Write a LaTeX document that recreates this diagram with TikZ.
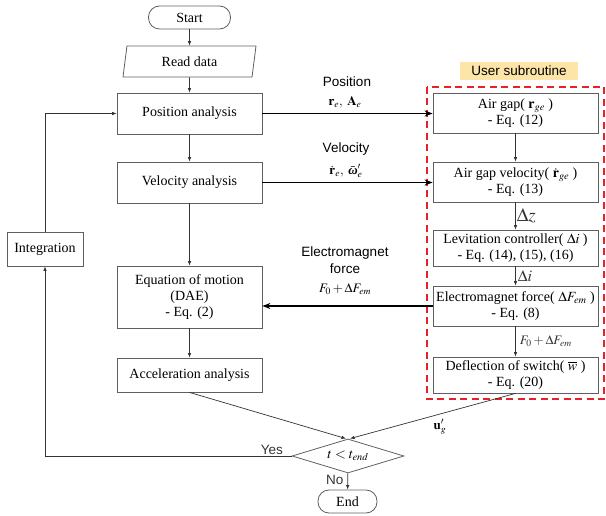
\documentclass[tikz,border=0pt]{standalone}
\usepackage{mathptmx}
\usepackage{fontspec}
\setmainfont{Liberation Serif}
\setsansfont{Liberation Sans}
\usetikzlibrary{arrows.meta,positioning,shapes.geometric}
\definecolor{subRed}{RGB}{232,32,40}
\definecolor{subYellow}{RGB}{252,229,166}
\definecolor{boxGray}{RGB}{95,95,95}
\newcommand{\bomega}{\mbox{\bfseries\itshape ω}}

\begin{document}
\begin{tikzpicture}[x=1pt,y=-1pt,
  font=\fontsize{14}{16}\selectfont,
  flowbox/.style={draw=boxGray,line width=0.8pt,minimum width=145pt,minimum height=40pt,align=center,inner sep=2pt},
  subbox/.style={flowbox,minimum width=165pt},
  terminal/.style={draw=boxGray,line width=0.8pt,rounded corners=11pt,minimum height=23pt,inner sep=2pt},
  iobox/.style={draw=boxGray,line width=0.8pt,trapezium,trapezium left angle=74,trapezium right angle=106,trapezium stretches body,minimum width=133pt,minimum height=31pt,inner sep=2pt},
  decision/.style={draw=boxGray,line width=0.8pt,diamond,aspect=3.3,minimum width=112pt,minimum height=34pt,inner sep=0pt},
  flowarrow/.style={-{Latex[length=4.5pt,width=3.5pt]},line width=0.7pt,black!80},
  dataarrow/.style={-{Stealth[length=8pt,width=6pt]},line width=1.6pt},
  sidelabel/.style={font=\sffamily\fontsize{13.5}{17}\selectfont,align=center,inner sep=1pt},
  mathlabel/.style={font=\fontsize{13}{15}\selectfont,inner sep=1pt}
]
  \useasboundingbox (0,0) rectangle (606,516);

  % main loop
  \node[terminal,minimum width=82pt] (start) at (189.5,17.5) {Start};
  \node[iobox] (read) at (189.5,61.5) {Read data};
  \node[flowbox,minimum height=41pt] (pos) at (189.5,113.5) {Position analysis};
  \node[flowbox,minimum height=41pt] (vel) at (189.5,182.5) {Velocity analysis};
  \node[flowbox,minimum height=62pt] (eom) at (189.5,297) {Equation of motion\\(DAE)\\- Eq. (2)};
  \node[flowbox,minimum height=34pt] (acc) at (189.5,375) {Acceleration analysis};
  \node[flowbox,minimum width=76pt,minimum height=34pt] (integ) at (45,249) {Integration};
  \node[decision] (check) at (348,456) {$t < t_{end}$};
  \node[terminal,minimum width=59pt] (end) at (347.5,501.5) {End};

  % user subroutine
  \draw[subRed,line width=2.2pt,dash pattern=on 7pt off 4.5pt] (427,87) rectangle (604,399);
  \node[fill=subYellow,minimum width=118pt,minimum height=18pt,inner sep=0pt,font=\sffamily\fontsize{13.5}{15}\selectfont] (usersub) at (519,71) {User subroutine};
  \node[subbox] (airgap) at (515.5,113) {Air gap( $\mathbf{r}_{ge}$ )\\- Eq. (12)};
  \node[subbox] (agvel) at (515.5,182) {Air gap velocity( $\dot{\mathbf{r}}_{ge}$ )\\- Eq. (13)};
  \node[subbox,minimum height=36pt] (levit) at (515.5,248) {Levitation controller( $\Delta i$ )\\- Eq. (14), (15), (16)};
  \node[subbox] (emforce) at (515.5,306) {Electromagnet force( $\Delta F_{em}$ )\\- Eq. (8)};
  \node[subbox,minimum height=36pt] (deflect) at (515.5,375) {Deflection of switch( $\overline{w}$ )\\- Eq. (20)};

  \draw[flowarrow] (start) -- (read);
  \draw[flowarrow] (read) -- (pos);
  \draw[flowarrow] (pos) -- (vel);
  \draw[flowarrow] (vel) -- (eom);
  \draw[flowarrow] (eom) -- (acc);
  \draw[flowarrow] (acc.south) -- ([xshift=-2pt]check.north);
  \draw[flowarrow] (deflect.south) -- ([xshift=2pt]check.north);
  \draw[flowarrow] (check) -- node[left,sidelabel,pos=0.4,inner sep=4pt] {No} (end);
  \draw[flowarrow] (check.west) -| node[above,sidelabel,pos=0.04] {Yes} (integ.south);
  \draw[flowarrow] (integ.north) |- (pos.west);

  \draw[flowarrow] (airgap) -- (agvel);
  \draw[flowarrow] (agvel) -- node[right,font=\fontsize{19}{20}\selectfont,inner sep=1pt] {$\Delta z$} (levit);
  \draw[flowarrow] (levit) -- node[right,font=\fontsize{16}{18}\selectfont,inner sep=2pt] {$\Delta i$} (emforce);
  \draw[flowarrow] (emforce) -- node[right,mathlabel,inner sep=4pt] {$F_0+\Delta F_{em}$} (deflect);

  % data passed between the two sides
  \draw[dataarrow] (pos.east) -- (pos.east -| airgap.west);
  \draw[dataarrow] (vel.east) -- (vel.east -| agvel.west);
  \draw[dataarrow] (emforce.west) -- (emforce.west -| eom.east);
  \node[sidelabel] (poslabel) at (347,82) {Position};
  \node[mathlabel] (posvec) at (345,102) {$\mathbf{r}_e,\ \mathbf{A}_e$};
  \node[sidelabel] (vellabel) at (346,149) {Velocity};
  \node[mathlabel] (velvec) at (346,171) {$\dot{\mathbf{r}}_e,\ \bar{\bomega}_e'$};
  \node[sidelabel] (forcelabel) at (345,260) {Electromagnet\\force};
  \node[mathlabel] (forcevec) at (345,289) {$F_0+\Delta F_{em}$};
  \node[mathlabel] (uglabel) at (440,427) {$\mathbf{u}_g'$};
\end{tikzpicture}
\end{document}
